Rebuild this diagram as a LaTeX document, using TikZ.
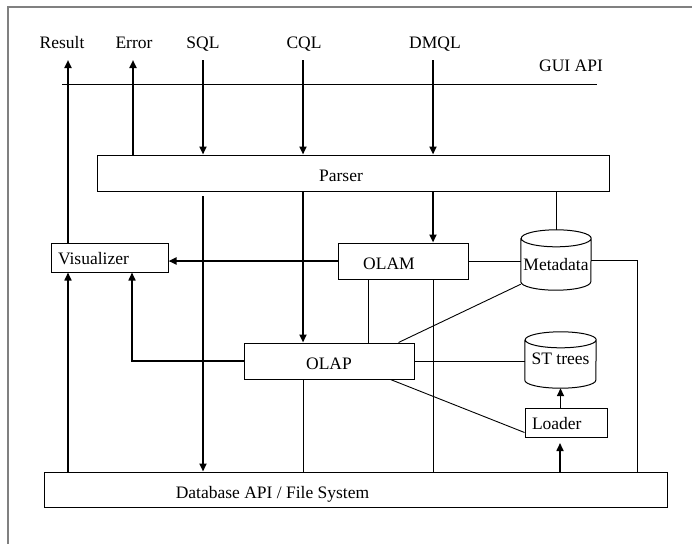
\documentclass[tikz,border=0pt]{standalone}
\usepackage{fontspec}
\setmainfont{Liberation Serif}
\usetikzlibrary{arrows.meta}

\begin{document}
\begin{tikzpicture}[x=1pt,y=-1pt,
	every node/.style={font=\fontsize{17.5}{20}\selectfont, text height=17.5pt, text depth=0pt},
	box/.style={draw, line width=1pt, inner sep=0pt},
	store/.style={inner sep=0pt},
	link/.style={line width=0.9pt},
	flow/.style={line width=2.2pt, -{Triangle[length=8pt,width=7pt]}},
	flowthin/.style={line width=1.6pt, -{Triangle[length=8pt,width=7pt]}}]
	\useasboundingbox (0,0) rectangle (692,544);
	\draw[gray, line width=1.5pt] (692,7) -- (8,7) -- (8,544);
	% top labels and GUI API line
	\node[anchor=base] (result) at (62,48) {Result};
	\node[anchor=base] (error) at (134,48) {Error};
	\node[anchor=base] (sql) at (203,48) {SQL};
	\node[anchor=base] (cql) at (304,48) {CQL};
	\node[anchor=base] (dmql) at (435,48) {DMQL};
	\node[anchor=base] (guiapi) at (571,71) {GUI API};
	\coordinate (guiL) at (62,84);
	\coordinate (guiR) at (597,84);
	\draw[link] (guiL) -- (guiR);
	\coordinate (resTip) at (68,60);
	\coordinate (errTip) at (133,60);
	\coordinate (sqlIn) at (203,60);
	\coordinate (cqlIn) at (303,60);
	\coordinate (dmqlIn) at (433,60);
	% modules
	\node[box, minimum width=512pt, minimum height=36pt, label={[xshift=-12pt]center:Parser}] (parser) at (353,173) {};
	\node[box, minimum height=29pt, inner xsep=7pt, text width=103pt, text height=13.5pt] (viz) at (109.5,257.5) {Visualizer};
	\node[box, minimum width=130pt, minimum height=36pt, label={[xshift=-14pt]center:OLAM}] (olam) at (403,261) {};
	\node[store, minimum width=70pt, minimum height=60pt, text height=20.5pt] (meta) at (556,260) {Metadata};
	\node[box, minimum width=170pt, minimum height=36pt] (olap) at (329,361) {OLAP};
	\node[store, minimum width=71pt, minimum height=56pt, text height=8.5pt] (st) at (560.5,360) {ST trees};
	\node[box, minimum height=29pt, inner xsep=7pt, text width=68pt, text height=13.5pt] (loader) at (566,422.5) {Loader};
	\node[box, minimum width=623pt, minimum height=35pt, label={[xshift=-83pt]center:Database API / File System}] (db) at (355.5,489.5) {};
	% cylinder outlines of the two stores
	\draw[line width=1pt] ([yshift=-8.5pt]meta.north west) -- ([yshift=8.5pt]meta.south west)
		arc[start angle=180, end angle=360, x radius=35pt, y radius=8.5pt] -- ([yshift=-8.5pt]meta.north east)
		arc[start angle=0, end angle=360, x radius=35pt, y radius=8.5pt];
	\draw[line width=1pt] ([yshift=-8pt]st.north west) -- ([yshift=8pt]st.south west)
		arc[start angle=180, end angle=360, x radius=35.5pt, y radius=8pt] -- ([yshift=-8pt]st.north east)
		arc[start angle=0, end angle=360, x radius=35.5pt, y radius=8pt];
	% connectors
	\draw[flow] (viz.north -| resTip) -- (resTip);
	\draw[flow] (parser.north -| errTip) -- (errTip);
	\draw[flow] (sqlIn) -- (parser.north -| sqlIn);
	\draw[flow] (cqlIn) -- (parser.north -| cqlIn);
	\draw[flow] (dmqlIn) -- (parser.north -| dmqlIn);
	\draw[flow] (parser.south -| dmqlIn) -- (olam.north -| dmqlIn);
	\draw[flow] (parser.south -| cqlIn) -- (olap.north -| cqlIn);
	\coordinate (sqlOut) at (203,196);
	\draw[flow] (sqlOut) -- (db.north -| sqlOut);
	\draw[flow] (olam.west) -- (olam.west -| viz.east);
	\draw[link] (olam.east) -- (olam.east -| meta.west);
	\coordinate (metaRt) at (637,261);
	\draw[link] (meta.east) -- (meta.east -| metaRt) -- (db.north -| metaRt);
	\draw[link] (parser.south -| meta.north) -- (meta.north);
	\coordinate (tapA) at (368,300);
	\draw[link] (olam.south -| tapA) -- (olap.north -| tapA);
	\draw[link] (olam.south -| dmqlIn) -- (db.north -| dmqlIn);
	\draw[link] ([yshift=6pt]meta.south west) -- ([xshift=-16pt]olap.north east);
	\coordinate (vizB) at (132,300);
	\draw[flowthin] (olap.west) -- (olap.west -| vizB) -- (viz.south -| vizB);
	\draw[flowthin] (db.north -| resTip) -- (viz.south -| resTip);
	\draw[link] (olap.east) -- (olap.east -| st.west);
	\draw[link] (olap.south -| cqlIn) -- (db.north -| cqlIn);
	\draw[link] ([xshift=-24pt]olap.south east) -- ([yshift=5pt]loader.south west);
	\draw[flowthin] (loader.north -| st.south) -- (st.south);
	\coordinate (ldIn) at (560,443);
	\draw[flowthin] (db.north -| ldIn) -- (ldIn);
\end{tikzpicture}
\end{document}
